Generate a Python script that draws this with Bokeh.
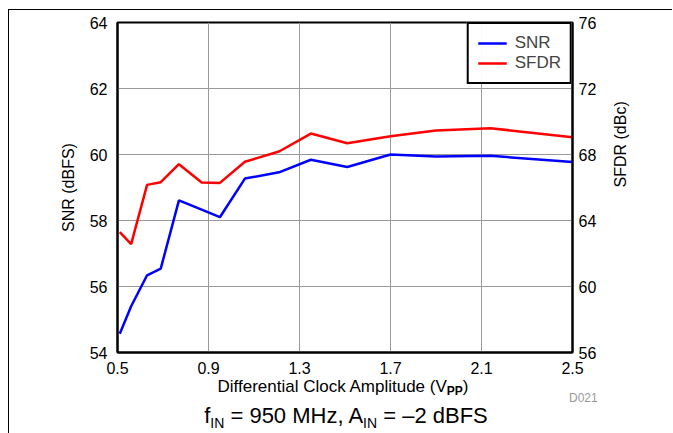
import math
from bokeh.plotting import figure
from bokeh.models import Range1d, LinearAxis, FixedTicker, Legend, LegendItem, NumeralTickFormatter, Div
from bokeh.layouts import column
from bokeh.embed import file_html
from bokeh.resources import INLINE

# ---- data ----
clock_vpp = [0.51, 0.56, 0.63, 0.69, 0.77, 0.87, 0.95, 1.06, 1.21, 1.35, 1.51, 1.70, 1.90, 2.14, 2.50]
snr_dbfs = [54.57, 55.40, 56.34, 56.54, 58.61, 58.33, 58.10, 59.27, 59.46, 59.84, 59.62, 60.00, 59.94, 59.96, 59.77]
sfdr_dbc = [63.29, 62.57, 66.16, 66.32, 67.41, 66.30, 66.28, 67.56, 68.18, 69.27, 68.68, 69.10, 69.45, 69.59, 69.05]
x_ticks = [0.5, 0.9, 1.3, 1.7, 2.1, 2.5]
snr_ticks = [54, 56, 58, 60, 62, 64]
sfdr_ticks = [56, 60, 64, 68, 72, 76]

W, H = 664, 375
BL, BR, BT, BB = 108, 101, 12, 33
FONT = "Liberation Sans"

p = figure(width=W, height=H, output_backend="svg", toolbar_location=None,
           x_range=Range1d(0.5, 2.5), y_range=Range1d(54, 64),
           min_border_left=BL, min_border_right=BR, min_border_top=BT, min_border_bottom=BB)
p.extra_y_ranges = {"sfdr": Range1d(56, 76)}
p.styles = {"margin-left": "8px", "margin-top": "9px", "margin-bottom": "-25px",
            "border-top": "1px solid black", "border-left": "1px solid black"}

p.outline_line_color = "black"
p.outline_line_width = 2
p.xgrid.grid_line_color = "#999999"
p.ygrid.grid_line_color = "#999999"
p.xgrid.ticker = FixedTicker(ticks=x_ticks)
p.ygrid.ticker = FixedTicker(ticks=snr_ticks)

p.xaxis.ticker = FixedTicker(ticks=x_ticks)
p.xaxis.formatter = NumeralTickFormatter(format="0.0")
p.yaxis.ticker = FixedTicker(ticks=snr_ticks)
p.yaxis.axis_label = "SNR (dBFS)"

right = LinearAxis(y_range_name="sfdr", ticker=FixedTicker(ticks=sfdr_ticks), axis_label="SFDR (dBc)")
p.add_layout(right, "right")

for ax in [p.xaxis[0], p.yaxis[0], right]:
    ax.axis_line_color = "black"
    ax.axis_line_width = 2
    ax.major_tick_out = 0
    ax.major_tick_in = 0
    ax.minor_tick_out = 0
    ax.minor_tick_in = 0
    ax.major_label_text_font = FONT
    ax.major_label_text_font_size = "16px"
    ax.major_label_text_color = "black"
    ax.axis_label_text_font = FONT
    ax.axis_label_text_font_size = "16px"
    ax.axis_label_text_font_style = "normal"
    ax.axis_label_text_color = "black"
p.xaxis.major_label_standoff = 9
p.yaxis.major_label_standoff = 10
p.yaxis.axis_label_standoff = 10
right.major_label_standoff = 6
right.axis_label_standoff = 21
try:
    right.axis_label_orientation = math.pi / 2
except Exception:
    right.axis_label_orientation = "vertical"

r_snr = p.line(clock_vpp, snr_dbfs, line_color="#0000FF", line_width=2.5)
r_sfdr = p.line(clock_vpp, sfdr_dbc, line_color="#FF0000", line_width=2.5, y_range_name="sfdr")

legend = Legend(items=[LegendItem(label="SNR", renderers=[r_snr]),
                       LegendItem(label="SFDR", renderers=[r_sfdr])],
                location="top_right", margin=0, padding=9, spacing=0,
                label_text_font=FONT, label_text_font_size="17px",
                label_height=20, glyph_height=20, glyph_width=29, label_standoff=8,
                border_line_color="black", border_line_width=2, border_line_alpha=1.0)
p.add_layout(legend)

base = ("position:absolute; white-space:nowrap; line-height:1; color:black; "
        "font-family:'Liberation Sans', Arial, sans-serif;")
html = (
    '<div style="position:relative; width:664px; height:73px;">'
    '<div style="position:absolute; left:3px; top:0px; width:1px; height:73px; background:black;"></div>'
    f'<span style="{base} left:338px; top:14px; font-size:17px; transform:translateX(-50%);">'
    'Differential Clock Amplitude (V<span style="font-size:12px; font-weight:bold; '
    'vertical-align:-3px;">PP</span>)</span>'
    f'<span style="{base} left:341px; top:41px; font-size:22px; transform:translateX(-50%);">'
    'f<span style="font-size:14px; vertical-align:-5px;">IN</span> = 950 MHz, '
    'A<span style="font-size:14px; vertical-align:-5px;">IN</span> = \u20132 dBFS</span>'
    f'<span style="{base} left:564px; top:28px; font-size:12px; color:#999999;">D021</span>'
    '</div>'
)
d = Div(text=html, width=664, height=73, styles={"overflow": "visible"})

layout = column(p, d, spacing=0)
open("out.html", "w").write(file_html(layout, INLINE))
